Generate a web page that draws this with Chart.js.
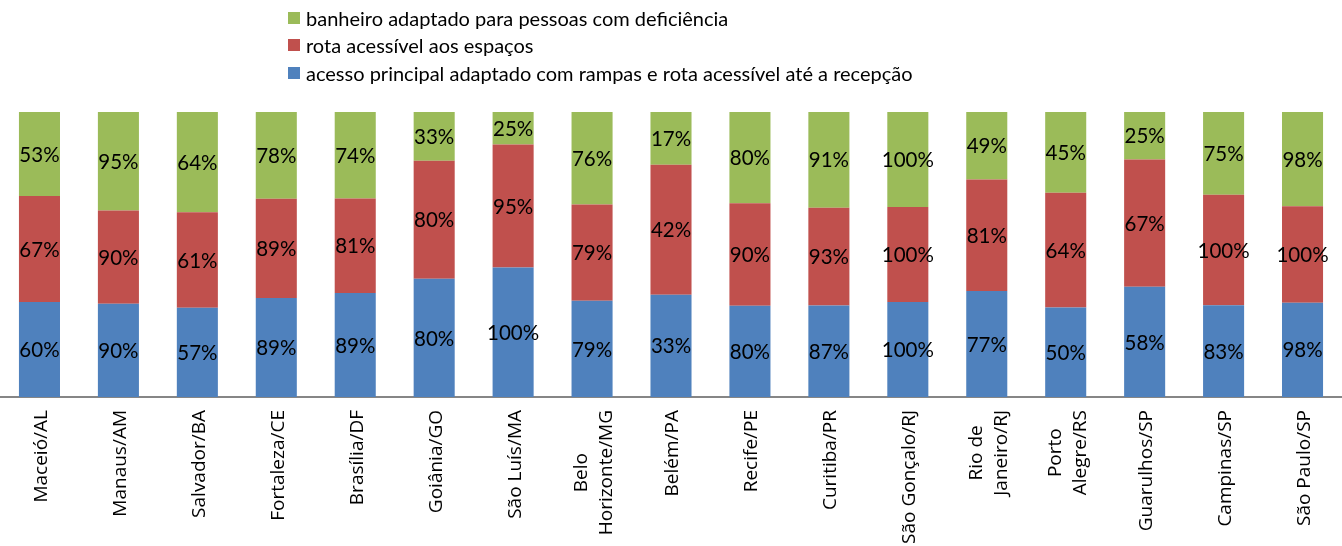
<!DOCTYPE html>
<html>
<head>
<meta charset="utf-8">
<script src="https://cdn.jsdelivr.net/npm/chart.js@4.4.0/dist/chart.umd.min.js"></script>
<style>
    html, body { margin: 0; padding: 0; background: #fff; }
    #wrap { position: relative; width: 1342px; height: 546px; }
    #legend { position: absolute; left: 288px; top: 4px; font-family: Lato, sans-serif; font-size: 20px; color: #000; }
    #legend .row { height: 27.5px; display: flex; align-items: center; }
    #legend .box { width: 12px; height: 12px; margin-right: 6px; }
</style>
</head>
<body>
<div id="wrap">
    <canvas id="chart" width="1342" height="546"></canvas>
    <div id="legend"></div>
</div>
<script>
const cities = [
    'Maceió/AL', 'Manaus/AM', 'Salvador/BA', 'Fortaleza/CE', 'Brasília/DF', 'Goiânia/GO',
    'São Luís/MA', ['Belo', 'Horizonte/MG'], 'Belém/PA', 'Recife/PE', 'Curitiba/PR',
    'São Gonçalo/RJ', ['Rio de', 'Janeiro/RJ'], ['Porto', 'Alegre/RS'], 'Guarulhos/SP',
    'Campinas/SP', 'São Paulo/SP'
];

// percentages as labelled on each segment
const acesso = [60, 90, 57, 89, 89, 80, 100, 79, 33, 80, 87, 100, 77, 50, 58, 83, 98];
const rota = [67, 90, 61, 89, 81, 80, 95, 79, 42, 90, 93, 100, 81, 64, 67, 100, 100];
const banheiro = [53, 95, 64, 78, 74, 33, 25, 76, 17, 80, 91, 100, 49, 45, 25, 75, 98];

const seriesNames = [
    'acesso principal adaptado com rampas e rota acessível até a recepção',
    'rota acessível aos espaços',
    'banheiro adaptado para pessoas com deficiência'
];
const colors = ['#4F81BD', '#C0504D', '#9BBB59'];

// 100% stacked: each column is scaled to its own total
const rawSeries = [acesso, rota, banheiro];
const totals = cities.map((_, i) => acesso[i] + rota[i] + banheiro[i]);
const datasets = rawSeries.map((values, k) => ({
    label: seriesNames[k],
    data: values.map((v, i) => v / totals[i] * 100),
    raw: values,
    backgroundColor: colors[k],
    barPercentage: 0.52,
    categoryPercentage: 1
}));

// values written in the middle of each segment
const segmentLabels = {
    id: 'segmentLabels',
    afterDatasetsDraw(chart) {
        const ctx = chart.ctx;
        ctx.save();
        ctx.font = '20.5px Lato, sans-serif';
        ctx.fillStyle = '#000';
        ctx.textAlign = 'center';
        ctx.textBaseline = 'middle';
        chart.data.datasets.forEach((ds, k) => {
            chart.getDatasetMeta(k).data.forEach((bar, i) => {
                const p = bar.getCenterPoint();
                ctx.fillText(ds.raw[i] + '%', p.x, p.y + 1);
            });
        });
        ctx.restore();
    }
};

// rotated category labels, lines centred on each other
const cityLabels = {
    id: 'cityLabels',
    afterDraw(chart) {
        const ctx = chart.ctx;
        const xScale = chart.scales.x;
        const top = chart.chartArea.bottom + 13;
        const lineHeight = 25;
        ctx.save();
        ctx.font = '19px "Open Sans", sans-serif';
        ctx.fillStyle = '#000';
        ctx.textAlign = 'center';
        ctx.textBaseline = 'middle';
        cities.forEach((label, i) => {
            const lines = Array.isArray(label) ? label : [label];
            const maxW = Math.max(...lines.map(l => ctx.measureText(l).width));
            const x = xScale.getPixelForTick(i) + 2;
            ctx.save();
            ctx.translate(x, top + maxW / 2);
            ctx.rotate(-Math.PI / 2);
            lines.forEach((line, j) => {
                ctx.fillText(line, 0, (j - (lines.length - 1) / 2) * lineHeight);
            });
            ctx.restore();
        });
        ctx.restore();
    }
};

const legendEl = document.getElementById('legend');
[2, 1, 0].forEach(k => {
    const row = document.createElement('div');
    row.className = 'row';
    row.innerHTML = `<span class="box" style="background:${colors[k]}"></span>${seriesNames[k]}`;
    legendEl.appendChild(row);
});

new Chart(document.getElementById('chart'), {
    type: 'bar',
    data: {
        labels: cities,
        datasets: datasets
    },
    options: {
        responsive: false,
        animation: false,
        layout: {
            padding: { top: 112, left: 0, right: 0, bottom: 0 }
        },
        plugins: {
            legend: { display: false },
            tooltip: { enabled: false }
        },
        scales: {
            x: {
                stacked: true,
                grid: { display: false },
                border: { display: true, color: '#868686', width: 2 },
                ticks: { display: false },
                afterFit: function (scale) {
                    scale.height = 149;
                }
            },
            y: {
                stacked: true,
                display: false,
                min: 0,
                max: 100
            }
        }
    },
    plugins: [segmentLabels, cityLabels]
});
</script>
</body>
</html>
